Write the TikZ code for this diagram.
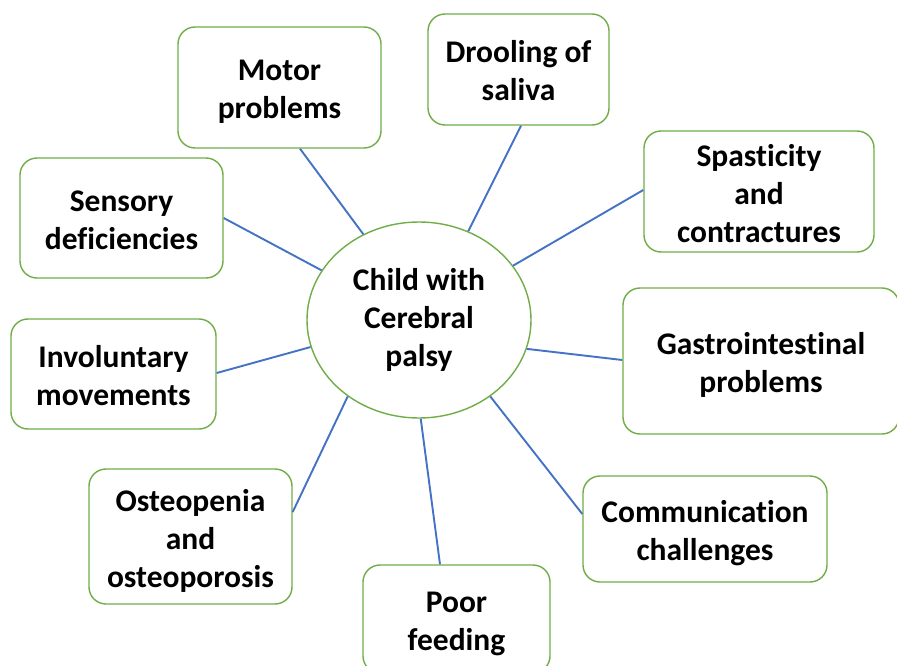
\documentclass[tikz,border=0pt]{standalone}
\usepackage{fontspec}
\setmainfont{Carlito}[Ligatures={NoCommon}]
\usetikzlibrary{shapes.geometric,calc}
\definecolor{boxgreen}{HTML}{70AD47}
\definecolor{lineblue}{HTML}{4472C4}
\newcommand{\sst}{\rule[-6.5pt]{0pt}{38pt}}
\newcommand{\hst}{\rule[-10.5pt]{0pt}{38pt}}
\tikzset{
  item/.style={draw=boxgreen, line width=1.4pt, rounded corners=17pt, fill=white,
    align=center, inner sep=0pt, font=\bfseries\fontsize{31.5}{38}\selectfont},
  hub/.style={draw=boxgreen, line width=1.4pt, ellipse, fill=white, inner sep=0pt,
    align=center, font=\bfseries\fontsize{31.5}{38}\selectfont},
  link/.style={draw=lineblue, line width=1.9pt}
}
\begin{document}
\begin{tikzpicture}[x=1pt,y=-1pt]
\useasboundingbox (0,0) rectangle (897,666);
\clip (0,0) rectangle (897,666);
\fill[white] (0,0) rectangle (897,666);
\node[hub, minimum width=224pt, minimum height=196pt] (c) at (419,320) {\hst Child with\\\hst Cerebral\\\hst palsy};
\node[item, minimum width=203pt, minimum height=121pt] (motor) at (279.5,87.5) {\sst Motor\\\sst problems};
\node[item, minimum width=181pt, minimum height=111pt] (drool) at (518.5,69.5) {\sst Drooling of\\\sst saliva};
\node[item, minimum width=230pt, minimum height=121pt] (spast) at (759,191.5) {\sst Spasticity\\\sst and\\\sst contractures};
\node[item, minimum width=203pt, minimum height=120pt] (sens) at (121.5,218) {\sst Sensory\\\sst deficiencies};
\node[item, minimum width=276pt, minimum height=146pt] (gastro) at (761,361) {\sst Gastrointestinal\\\sst problems};
\node[item, minimum width=205pt, minimum height=110pt] (invol) at (113.5,374) {\sst Involuntary\\\sst movements};
\node[item, minimum width=244pt, minimum height=106pt] (comm) at (705,529) {\sst Communication\\\sst challenges};
\node[item, minimum width=203pt, minimum height=135pt] (osteo) at (190.5,536.5) {\sst Osteopenia\\\sst and\\\sst osteoporosis};
\node[item, minimum width=187pt, minimum height=108pt] (poor) at (456.5,619) {\sst Poor\\\sst feeding};
\draw[link] ($(motor.south)+(20.5,0)$) -- (c.123);
\draw[link] ($(drool.south)+(2.5,0)$) -- (c.61);
\draw[link] ($(spast.west)+(0,-1.5)$) -- (c.30.6);
\draw[link] (sens.east) -- (c.153);
\draw[link] ($(gastro.west)+(0,-1)$) -- (c.345.6);
\draw[link] ($(invol.east)+(0,-1)$) -- (c.194.8);
\draw[link] ($(comm.west)+(0,-15)$) -- (c.313);
\draw[link] ($(osteo.east)+(0,-24.5)$) -- (c.227);
\draw[link] ($(poor.north)+(-16.5,0)$) -- (c.271);
\end{tikzpicture}
\end{document}
